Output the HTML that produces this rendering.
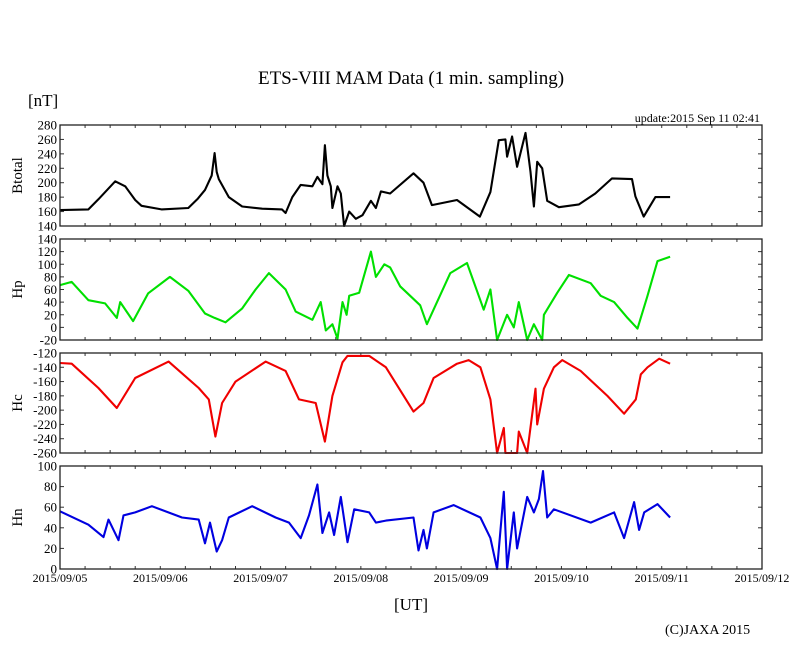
<!DOCTYPE html>
<html><head><meta charset="utf-8"><style>
body{margin:0;background:#fff;}
svg{display:block;font-family:"Liberation Serif",serif;}
</style></head><body>
<svg id="chart" width="810" height="655" viewBox="0 0 810 655">
<text x="411" y="84" font-size="19" text-anchor="middle">ETS-VIII MAM Data (1 min. sampling)</text>
<text x="28" y="106" font-size="17">[nT]</text>
<text x="760" y="122" font-size="12" text-anchor="end">update:2015 Sep 11 02:41</text>
<text x="411" y="610" font-size="17" text-anchor="middle">[UT]</text>
<text x="665" y="634" font-size="14">(C)JAXA 2015</text>
<g id="plots"></g>
</svg>
<script>
const xLabels=["2015/09/05","2015/09/06","2015/09/07","2015/09/08","2015/09/09","2015/09/10","2015/09/11","2015/09/12"];
const btT=[0,6.8,9.2,13.2,15.6,18,19.5,24.3,30.7,33,34.7,36.3,37,37.5,38,40.4,43.6,48.4,53.1,54,55.6,57.6,60.4,61.6,62.8,63.4,64,64.8,65.2,66.4,67.2,68,69.2,70.8,72.4,74.4,75.6,76.8,79,84.6,87,89,95,100.5,103,105,106.6,107,108.2,109.4,111.4,112.6,113.4,114.2,115.4,116.6,119.4,124.2,128.1,132.1,136.9,137.7,139.7,142.5,146];
const btV=[162,163,177,202,195,176,168,163,165,178,190,210,241,215,205,180,167,164,163,158,180,197,195,208,198,252,210,195,165,195,185,140,160,150,155,175,165,188,185,213,200,169,176,153,187,259,260,236,264,222,269,215,167,229,220,175,166,170,185,206,205,181,153,180,180];
const hpT=[0,2.8,6.8,10.8,13.6,14.4,17.5,21.1,26.3,30.7,34.7,37,39.6,43.6,46.8,50,54,56.4,60.4,62.4,63.6,65.2,66.4,67.6,68.6,69.2,71.6,74.4,75.6,77.6,79,81.4,86.2,87.8,93.4,97.4,101.4,103,104.6,107,108.6,109.8,111.8,113.4,115.4,115.8,119,121.8,127,129.4,132.6,135.8,138.2,140.6,143,146];
const hpV=[67,72,43,38,15,40,10,54,80,58,22,15,8,30,60,86,60,25,12,40,-5,5,-18,40,20,50,55,120,80,100,95,65,35,5,86,102,28,60,-20,20,0,40,-20,5,-20,20,55,83,70,50,40,15,-2,50,105,112];
const hcT=[0,2.8,9.2,13.6,18,26,33.2,35.6,37.2,38.8,42,49.2,54,57.2,61.2,63.4,65.2,67.6,68.8,74,78,84.6,87,89.4,95,97.8,100.6,103,104.6,106.2,106.6,109.4,109.8,111.8,113.8,114.2,115.8,118.2,120.2,124.6,131,135,137.8,139,140.6,143.4,146];
const hcV=[-134,-135,-169,-197,-155,-132,-169,-185,-237,-190,-160,-132,-145,-185,-190,-244,-180,-133,-124,-124,-140,-202,-190,-155,-135,-130,-140,-185,-260,-225,-260,-260,-230,-260,-170,-220,-170,-140,-130,-145,-180,-205,-185,-150,-140,-128,-135];
const hnT=[0,6.8,10.4,11.6,14,15.2,18,22,29.2,33.2,34.7,35.9,37.5,38.8,40.4,46,51.6,54.8,57.6,59.6,61.6,62.8,64.4,65.6,67.2,68.8,70.4,74,75.6,78,84.6,85.8,87,87.8,89.4,94.2,100.6,103,104.6,106.2,107,108.6,109.4,111.8,113.4,114.6,115.6,116.6,118.2,127,132.6,135,137.4,138.6,139.8,143,146];
const hnV=[56,43,31,48,28,52,55,61,50,48,25,45,17,28,50,61,50,45,30,52,82,35,55,33,70,26,58,55,45,47,50,18,38,20,55,62,50,30,0,75,0,55,20,70,55,68,95,50,58,45,55,30,65,38,55,63,50];

const panels=[
 {name:"btotal",title:"Btotal",top:125,bot:226,min:140,max:280,step:20,color:"#000",t:btT,v:btV},
 {name:"hp",title:"Hp",top:239,bot:340,min:-20,max:140,step:20,color:"#00e000",t:hpT,v:hpV},
 {name:"hc",title:"Hc",top:353,bot:453,min:-260,max:-120,step:20,color:"#f00000",t:hcT,v:hcV},
 {name:"hn",title:"Hn",top:466,bot:569,min:0,max:100,step:20,color:"#0000e0",t:hnT,v:hnV}
];
const X0=60,X1=762,HOURS=168;
const xs=h=>X0+(X1-X0)*h/HOURS;
const NS="http://www.w3.org/2000/svg";
const root=document.getElementById("plots");
function mk(tag,attrs,parent){const e=document.createElementNS(NS,tag);for(const k in attrs)e.setAttribute(k,attrs[k]);(parent||root).appendChild(e);return e;}
panels.forEach((p,pi)=>{
 const ys=v=>p.bot-(p.bot-p.top)*(v-p.min)/(p.max-p.min);
 const g=mk("g",{});
 
 
 for(let h=6;h<HOURS;h+=6){
  const x=xs(h);
  mk("line",{x1:x,x2:x,y1:p.top,y2:p.top+3,stroke:"#333","stroke-width":1},g);
  mk("line",{x1:x,x2:x,y1:p.bot,y2:p.bot-3,stroke:"#333","stroke-width":1},g);
 }
 for(let v=p.min;v<=p.max;v+=p.step){
  const y=ys(v);
  mk("line",{x1:X0,x2:X0+4,y1:y,y2:y,stroke:"#333","stroke-width":1},g);
  mk("line",{x1:X1,x2:X1-4,y1:y,y2:y,stroke:"#333","stroke-width":1},g);
  const t=mk("text",{x:57,y:y+4.5,"font-size":13,"text-anchor":"end"},g);
  
  
  t.textContent=v;
 }
 const yt=mk("text",{x:0,y:0,"font-size":15,"text-anchor":"middle",transform:`translate(22,${(p.top+p.bot)/2}) rotate(-90)`},g);
 
 
 yt.textContent=p.title;
 let d="";
 p.t.forEach((h,i)=>{d+=(i?"L":"M")+xs(h).toFixed(1)+","+ys(p.v[i]).toFixed(1);});
 const path=mk("path",{d:d,fill:"none",stroke:p.color,"stroke-width":2.1,"stroke-linejoin":"round"},g);
 
 
 const fr=mk("rect",{x:X0,y:p.top,width:X1-X0,height:p.bot-p.top,fill:"none",stroke:"#222","stroke-width":1.3},g);
 
 
});
xLabels.forEach((l,i)=>{
 const t=mk("text",{x:xs(i*24),y:582,"font-size":12,"text-anchor":"middle"});
 
 
 t.textContent=l;
});
</script>
</body></html>
